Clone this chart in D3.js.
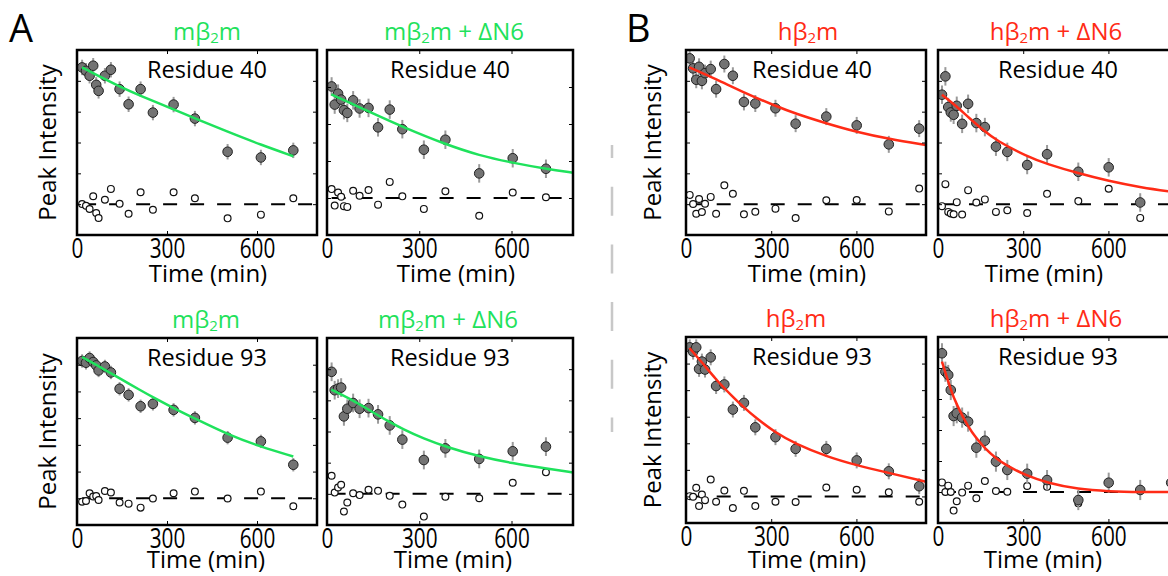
<!DOCTYPE html>
<html>
<head>
<meta charset="utf-8">
<script src="https://cdn.jsdelivr.net/npm/d3@7"></script>
<style>
  body { margin: 0; background: #fff; }
  text { font-family: "Open Sans", sans-serif; }
</style>
</head>
<body>
<svg id="chart"></svg>
<script>
// sampling times (min) for each sample
const tMouse = [17, 30, 42, 54, 64, 72, 93, 113, 142, 172, 212, 253, 322, 393, 502, 613, 721]
const tMouseN6 = [15, 25, 36, 46, 55, 66, 85, 106, 135, 166, 204, 245, 315, 385, 495, 604, 712]
const tHuman = [13, 25, 36, 46, 56, 67, 87, 106, 135, 165, 204, 244, 315, 386, 494, 601, 714, 821]
const tHumanN6 = [14, 26, 36, 45, 55, 66, 85, 106, 135, 165, 204, 244, 314, 384, 494, 601, 712, 821]

// residue 40
const r40Mouse = [0.887, 0.865, 0.833, 0.898, 0.774, 0.735, 0.833, 0.872, 0.746, 0.648, 0.746, 0.594, 0.646, 0.555, 0.340, 0.303, 0.349]
const r40MouseRes = [0.001, -0.010, -0.031, 0.051, -0.057, -0.090, 0.029, 0.099, 0.003, -0.062, 0.077, -0.036, 0.077, 0.038, -0.092, -0.068, 0.038]
const r40MouseFitT = [17, 93, 142, 212, 322, 393, 502, 613, 721]
const r40MouseFit = [0.887, 0.811, 0.763, 0.702, 0.616, 0.556, 0.470, 0.385, 0.311]

const r40MouseN6 = [0.603, 0.505, 0.564, 0.532, 0.475, 0.460, 0.528, 0.484, 0.487, 0.382, 0.478, 0.372, 0.261, 0.315, 0.133, 0.215, 0.158]
const r40MouseN6Res = [0.048, -0.041, 0.030, 0.007, -0.044, -0.048, 0.039, 0.012, 0.043, -0.036, 0.087, 0.009, -0.059, 0.036, -0.096, 0.030, 0.004]
const r40MouseN6FitT = [14, 106, 166, 245, 385, 495, 604, 712, 800]
const r40MouseN6Fit = [0.560, 0.490, 0.445, 0.385, 0.290, 0.230, 0.190, 0.158, 0.137]

const r40Human = [0.946, 0.881, 0.807, 0.891, 0.800, 0.850, 0.876, 0.746, 0.909, 0.833, 0.663, 0.653, 0.622, 0.522, 0.568, 0.511, 0.388, 0.490]
const r40HumanRes = [0.060, 0.001, -0.062, 0.034, -0.051, 0.003, 0.047, -0.062, 0.122, 0.068, -0.066, -0.049, -0.029, -0.090, 0.025, 0.027, -0.047, 0.101]
const r40HumanFitT = [12, 106, 204, 315, 386, 494, 601, 714, 845]
const r40HumanFit = [0.887, 0.811, 0.724, 0.637, 0.587, 0.524, 0.468, 0.423, 0.383]

const r40HumanN6 = [0.710, 0.829, 0.630, 0.595, 0.580, 0.638, 0.521, 0.651, 0.526, 0.500, 0.373, 0.339, 0.254, 0.324, 0.210, 0.239, 0.011]
const r40HumanN6Res = [-0.013, 0.130, -0.050, -0.061, -0.065, 0.013, -0.067, 0.091, 0.011, 0.031, -0.050, -0.039, -0.057, 0.067, 0.020, 0.100, -0.089]
const r40HumanN6FitT = [14, 66, 106, 165, 204, 314, 384, 494, 601, 712, 845]
const r40HumanN6Fit = [0.710, 0.634, 0.565, 0.471, 0.415, 0.308, 0.260, 0.200, 0.150, 0.109, 0.075]

// residue 93
const r93Mouse = [1.028, 1.015, 1.050, 1.020, 0.995, 0.957, 0.987, 0.942, 0.820, 0.774, 0.689, 0.707, 0.662, 0.602, 0.454, 0.426, 0.251]
const r93MouseRes = [-0.025, -0.020, 0.038, 0.013, 0.017, -0.013, 0.055, 0.043, -0.032, -0.040, -0.070, -0.002, 0.038, 0.050, -0.002, 0.050, -0.060]
const r93MouseFitT = [17, 93, 142, 212, 253, 322, 393, 502, 613, 721]
const r93MouseFit = [1.058, 0.962, 0.898, 0.808, 0.757, 0.675, 0.597, 0.478, 0.385, 0.313]

const r93MouseN6 = [0.783, 0.665, 0.675, 0.682, 0.497, 0.546, 0.583, 0.546, 0.550, 0.510, 0.439, 0.348, 0.217, 0.292, 0.224, 0.273, 0.303]
const r93MouseN6Res = [0.116, 0.008, 0.041, 0.058, -0.114, -0.056, 0.004, -0.008, 0.026, 0.019, -0.013, -0.069, -0.146, -0.019, -0.028, 0.071, 0.138]
const r93MouseN6FitT = [14, 85, 135, 204, 245, 315, 385, 495, 604, 712, 800]
const r93MouseN6Fit = [0.669, 0.600, 0.540, 0.460, 0.417, 0.353, 0.303, 0.239, 0.196, 0.163, 0.137]

const r93Human = [1.122, 1.090, 1.122, 0.960, 1.015, 0.955, 1.047, 0.831, 0.843, 0.654, 0.704, 0.520, 0.446, 0.358, 0.358, 0.271, 0.189, 0.077]
const r93HumanRes = [0.002, -0.002, 0.065, -0.072, 0.015, -0.028, 0.127, -0.040, 0.045, -0.087, 0.042, -0.072, -0.040, -0.042, 0.067, 0.050, 0.032, -0.040]
const r93HumanFitT = [12, 56, 106, 165, 204, 244, 315, 386, 494, 601, 714, 845]
const r93HumanFit = [1.117, 1.010, 0.878, 0.749, 0.669, 0.595, 0.480, 0.396, 0.301, 0.234, 0.177, 0.110]

const r93HumanN6 = [0.895, 0.776, 0.755, 0.658, 0.490, 0.508, 0.480, 0.454, 0.286, 0.331, 0.196, 0.142, 0.118, 0.077, -0.052, 0.060, 0.013, 0.060]
const r93HumanN6Res = [0.062, 0.000, 0.041, 0.000, -0.120, -0.060, -0.004, 0.041, -0.041, 0.071, 0.006, 0.002, 0.039, 0.034, -0.073, 0.062, 0.013]
const r93HumanN6FitT = [14, 45, 66, 106, 135, 165, 204, 244, 314, 384, 494, 601, 712, 845]
const r93HumanN6Fit = [0.841, 0.658, 0.561, 0.421, 0.346, 0.282, 0.217, 0.168, 0.103, 0.060, 0.017, 0.004, 0.000, 0.000]

const xTicks = [0, 300, 600]

const green = "#1fe25c"
const red = "#ff2b16"

const svg = d3.select("#chart").attr("width", 1168).attr("height", 576)

// one entry per panel: layout + which arrays to use
const panels = [
  { x0: 77, w: 240, y0: 50, h: 185, tMax: 800, yDom: [-0.2, 1.0], err: 0.05,
    t: tMouse, v: r40Mouse, res: r40MouseRes, fitT: r40MouseFitT, fit: r40MouseFit,
    sp: "m", plus: false, color: green, residue: "Residue 40", titleX: 207, resX: 207, xlabX: 208, ylab: 56 },
  { x0: 327, w: 246, y0: 50, h: 185, tMax: 800, yDom: [-0.2, 0.8], err: 0.05,
    t: tMouseN6, v: r40MouseN6, res: r40MouseN6Res, fitT: r40MouseN6FitT, fit: r40MouseN6Fit,
    sp: "m", plus: true, color: green, residue: "Residue 40", titleX: 454, resX: 450, xlabX: 456 },
  { x0: 686, w: 240, y0: 50, h: 185, tMax: 845, yDom: [-0.2, 1.0], err: 0.055,
    t: tHuman, v: r40Human, res: r40HumanRes, fitT: r40HumanFitT, fit: r40HumanFit,
    sp: "h", plus: false, color: red, residue: "Residue 40", titleX: 808, resX: 812, xlabX: 807, ylab: 661 },
  { x0: 938, w: 240, y0: 50, h: 185, tMax: 845, yDom: [-0.2, 1.0], err: 0.06,
    t: tHumanN6, v: r40HumanN6, res: r40HumanN6Res, fitT: r40HumanN6FitT, fit: r40HumanN6Fit,
    sp: "h", plus: true, color: red, residue: "Residue 40", titleX: 1056, resX: 1058, xlabX: 1044 },
  { x0: 77, w: 240, y0: 338, h: 187, tMax: 800, yDom: [-0.2, 1.2], err: 0.05,
    t: tMouse, v: r93Mouse, res: r93MouseRes, fitT: r93MouseFitT, fit: r93MouseFit,
    sp: "m", plus: false, color: green, residue: "Residue 93", titleX: 206, resX: 207, xlabX: 206, ylab: 56 },
  { x0: 327, w: 246, y0: 338, h: 187, tMax: 800, yDom: [-0.2, 1.0], err: 0.06,
    t: tMouseN6, v: r93MouseN6, res: r93MouseN6Res, fitT: r93MouseN6FitT, fit: r93MouseN6Fit,
    sp: "m", plus: true, color: green, residue: "Residue 93", titleX: 448, resX: 450, xlabX: 453 },
  { x0: 686, w: 240, y0: 337, h: 186, tMax: 845, yDom: [-0.2, 1.2], err: 0.06,
    t: tHuman, v: r93Human, res: r93HumanRes, fitT: r93HumanFitT, fit: r93HumanFit,
    sp: "h", plus: false, color: red, residue: "Residue 93", titleX: 796, resX: 812, xlabX: 807, ylab: 661 },
  { x0: 938, w: 240, y0: 337, h: 186, tMax: 845, yDom: [-0.2, 1.0], err: 0.065,
    t: tHumanN6, v: r93HumanN6, res: r93HumanN6Res, fitT: r93HumanN6FitT, fit: r93HumanN6Fit,
    sp: "h", plus: true, color: red, residue: "Residue 93", titleX: 1056, resX: 1058, xlabX: 1043 },
]

panels.forEach((p, i) => {
  const x = d3.scaleLinear().domain([0, p.tMax]).range([p.x0, p.x0 + p.w])
  const y = d3.scaleLinear().domain(p.yDom).range([p.y0 + p.h, p.y0])
  const yTicks = d3.range(0, p.yDom[1] + 1e-6, 0.2)

  const g = svg.append("g")
  g.append("clipPath").attr("id", "clip" + i)
    .append("rect").attr("x", p.x0).attr("y", p.y0).attr("width", p.w).attr("height", p.h)
  const plot = g.append("g").attr("clip-path", `url(#clip${i})`)

  const pts = p.v.map((v, j) => ({ t: p.t[j], v }))
  const opens = p.res.map((v, j) => ({ t: p.t[j], v }))
  const fit = p.fit.map((v, j) => ({ t: p.fitT[j], v }))

  // zero baseline
  plot.append("path")
    .attr("d", d3.line()([[x(p.t[0]), y(0)], [x(p.tMax), y(0)]]))
    .attr("stroke", "#000").attr("stroke-width", 2)
    .attr("stroke-dasharray", "14,13").attr("fill", "none")

  plot.selectAll(".open").data(opens).join("circle")
    .attr("cx", d => x(d.t)).attr("cy", d => y(d.v)).attr("r", 3.4)
    .attr("fill", "#fff").attr("stroke", "#111").attr("stroke-width", 1.2)

  plot.selectAll(".err").data(pts).join("line")
    .attr("x1", d => x(d.t)).attr("x2", d => x(d.t))
    .attr("y1", d => y(d.v - p.err)).attr("y2", d => y(d.v + p.err))
    .attr("stroke", "#9a9a9a").attr("stroke-width", 2)

  plot.selectAll(".pt").data(pts).join("circle")
    .attr("cx", d => x(d.t)).attr("cy", d => y(d.v)).attr("r", 4.8)
    .attr("fill", "#737373").attr("stroke", "#222").attr("stroke-width", 1)

  plot.append("path")
    .datum(fit)
    .attr("d", d3.line().x(d => x(d.t)).y(d => y(d.v)).curve(d3.curveBasis))
    .attr("fill", "none").attr("stroke", p.color).attr("stroke-width", 2.5)

  // axes with inward ticks on all four sides
  const bottom = g.append("g").attr("transform", `translate(0,${p.y0 + p.h})`)
    .call(d3.axisBottom(x).tickValues(xTicks).tickSizeInner(-4).tickSizeOuter(0).tickPadding(4))
  bottom.select(".domain").remove()
  bottom.attr("font-family", null).attr("font-size", null)
  bottom.selectAll("text").attr("font-size", 26.6).attr("fill", "#000")
    .attr("transform", "scale(0.78,1)")

  g.append("g").attr("transform", `translate(0,${p.y0})`)
    .call(d3.axisTop(x).tickValues(xTicks).tickSizeInner(-4).tickSizeOuter(0).tickFormat(""))
    .call(a => a.select(".domain").remove())
  g.append("g").attr("transform", `translate(${p.x0},0)`)
    .call(d3.axisLeft(y).tickValues(yTicks).tickSizeInner(-4).tickSizeOuter(0).tickFormat(""))
    .call(a => a.select(".domain").remove())
  g.append("g").attr("transform", `translate(${p.x0 + p.w},0)`)
    .call(d3.axisRight(y).tickValues(yTicks).tickSizeInner(-4).tickSizeOuter(0).tickFormat(""))
    .call(a => a.select(".domain").remove())

  g.append("rect")
    .attr("x", p.x0).attr("y", p.y0).attr("width", p.w).attr("height", p.h)
    .attr("fill", "none").attr("stroke", "#000").attr("stroke-width", 2.5)

  // titles
  const title = g.append("text").attr("x", p.titleX).attr("y", p.y0 - 10.5)
    .attr("text-anchor", "middle").attr("font-size", 24).attr("fill", p.color)
  title.append("tspan").text(p.sp + "β")
  title.append("tspan").text("2").attr("font-size", 15).attr("dy", 3)
  title.append("tspan").text(p.plus ? "m + ΔN6" : "m").attr("dy", -3)

  g.append("text").attr("x", p.resX).attr("y", p.y0 + 27.5)
    .attr("text-anchor", "middle").attr("font-size", 23.5).text(p.residue)

  g.append("text").attr("x", p.xlabX).attr("y", Math.min(p.y0 + p.h + 46.5, 567.5))
    .attr("text-anchor", "middle").attr("font-size", 24).text("Time (min)")

  if (p.ylab) {
    g.append("text")
      .attr("transform", `translate(${p.ylab},${p.y0 + p.h / 2}) rotate(-90)`)
      .attr("text-anchor", "middle").attr("font-size", 24).text("Peak Intensity")
  }
})

svg.append("text").attr("x", 9).attr("y", 42).attr("font-size", 38).text("A")
svg.append("text").attr("x", 626).attr("y", 42).attr("font-size", 38).text("B")

// grey dashed divider between A and B
svg.append("line")
  .attr("x1", 612).attr("x2", 612).attr("y1", 145).attr("y2", 432)
  .attr("stroke", "#c8c8c8").attr("stroke-width", 2.5)
  .attr("stroke-dasharray", "29,28.7").attr("stroke-dashoffset", 16)
</script>
</body>
</html>
